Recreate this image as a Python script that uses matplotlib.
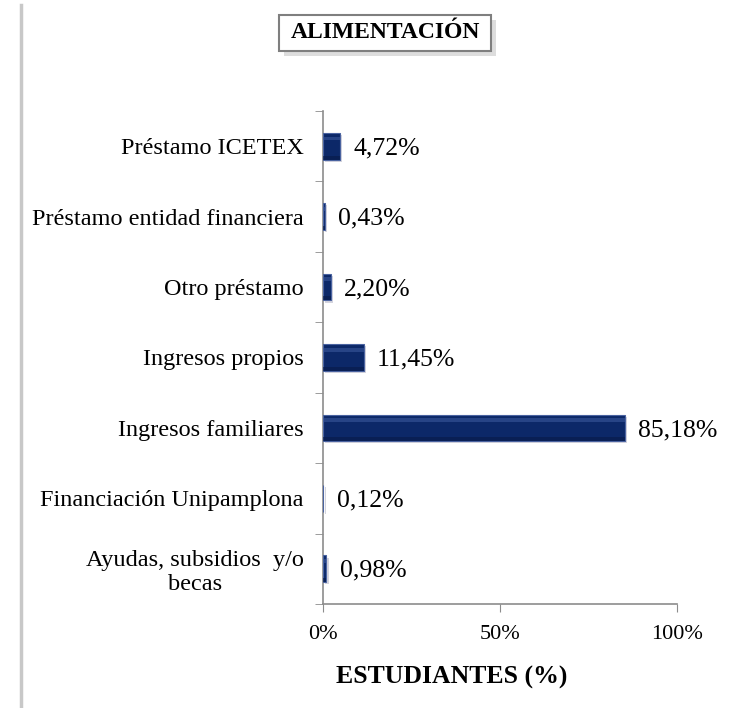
import matplotlib
matplotlib.use("Agg")
import matplotlib.pyplot as plt
from matplotlib.patches import Rectangle
from matplotlib.lines import Line2D
import numpy as np

categories = ["Ayudas, subsidios  y/o\nbecas", "Financiación Unipamplona", "Ingresos familiares",
              "Ingresos propios", "Otro préstamo", "Préstamo entidad financiera", "Préstamo ICETEX"]
values = [0.98, 0.12, 85.18, 11.45, 2.20, 0.43, 4.72]
value_labels = ["0,98%", "0,12%", "85,18%", "11,45%", "2,20%", "0,43%", "4,72%"]
xticks = [0, 50, 100]
xtick_labels = ["0%", "50%", "100%"]

plt.rcParams['font.family'] = ['Liberation Serif', 'DejaVu Serif']

fig = plt.figure(figsize=(7.45, 7.08), dpi=100)
ax = fig.add_axes([323/745, 1-604/708, (677-323)/745, (604-111)/708])

y = np.arange(len(categories))
bh = 0.38
# soft shadow
ax.barh(y - 0.03, values, left=0.6, height=bh, color="#b8b8c8", edgecolor="none", alpha=0.6, zorder=2)
bars = ax.barh(y, values, height=bh, color="#0c2868", edgecolor="#4a63a0", linewidth=0.8, zorder=3)
# bevel highlight near top
for b in bars:
    x0, y0, w, h = b.get_x(), b.get_y(), b.get_width(), b.get_height()
    ax.add_patch(Rectangle((x0, y0 + h*0.72), w, h*0.14, facecolor="#3f5c9f", edgecolor="none", alpha=0.55, zorder=4))
    ax.add_patch(Rectangle((x0, y0), w, h*0.15, facecolor="#071a47", edgecolor="none", alpha=0.6, zorder=4))

for yi, v, lab in zip(y, values, value_labels):
    ax.text(v + 3.8, yi - 0.03, lab, va="center", ha="left", fontsize=18.5, color="black")

ax.set_xlim(0, 100)
ax.set_ylim(-0.5, len(categories) - 0.5)
ax.set_xticks(xticks)
ax.set_xticklabels(xtick_labels, fontsize=16)
ax.set_yticks(y)
ax.set_yticklabels(categories, fontsize=17.5, ha="right", multialignment="center")
ax.tick_params(axis="y", length=0, pad=14)
ax.set_yticks(np.arange(-0.5, len(categories), 1), minor=True)
ax.tick_params(axis="y", which="minor", length=6, color="#8c8c8c", direction="out")
ax.tick_params(axis="x", length=6, color="#8c8c8c", direction="out", pad=9)

for s in ["top", "right"]:
    ax.spines[s].set_visible(False)
for s in ["left", "bottom"]:
    ax.spines[s].set_color("#8c8c8c")
    ax.spines[s].set_linewidth(1.2)

fig.text(452/745, 1-677/708, "ESTUDIANTES (%)", ha="center", va="center", fontsize=18.5, fontweight="bold")

# title box with shadow
fig.patches.append(Rectangle((284/745, 1-56/708), 212/745, 36/708, transform=fig.transFigure,
                             facecolor="#cfcfcf", edgecolor="none", alpha=0.7, zorder=1))
fig.patches.append(Rectangle((279/745, 1-51/708), 212/745, 36/708, transform=fig.transFigure,
                             facecolor="white", edgecolor="#7f7f7f", linewidth=1.5, zorder=2))
fig.text(385/745, 1-33/708, "ALIMENTACIÓN", ha="center", va="center", fontsize=17, fontweight="bold", zorder=3)

# left frame line
fig.add_artist(Line2D([21/745, 21/745], [0, 1-5/708], transform=fig.transFigure, color="#c8c8c8", linewidth=2.5))

fig.savefig("out.png", dpi=100)
